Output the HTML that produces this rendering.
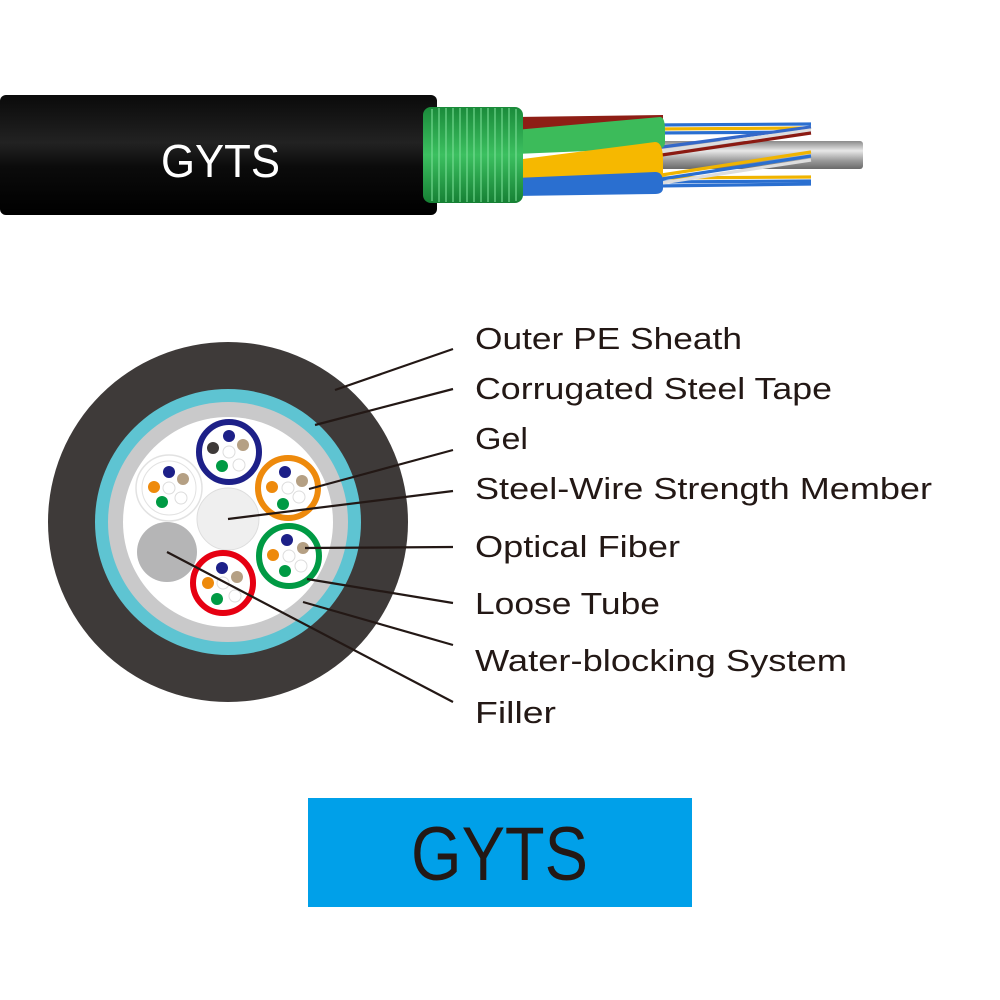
<!DOCTYPE html>
<html><head><meta charset="utf-8"><style>html,body{margin:0;padding:0;background:#fff}svg{display:block}</style></head>
<body>
<svg width="1000" height="1000" viewBox="0 0 1000 1000" xmlns="http://www.w3.org/2000/svg">
<defs>
<linearGradient id="blk" x1="0" y1="0" x2="0" y2="1">
<stop offset="0" stop-color="#0a0a0a"/><stop offset="0.4" stop-color="#222"/><stop offset="0.6" stop-color="#0b0b0b"/><stop offset="1" stop-color="#000"/></linearGradient>
<linearGradient id="rod" x1="0" y1="0" x2="0" y2="1">
<stop offset="0" stop-color="#8a8a8a"/><stop offset="0.35" stop-color="#e8e8e8"/><stop offset="0.7" stop-color="#9a9a9a"/><stop offset="1" stop-color="#6a6a6a"/></linearGradient>
<linearGradient id="grn" x1="0" y1="0" x2="0" y2="1">
<stop offset="0" stop-color="#1a8a3a"/><stop offset="0.5" stop-color="#3cc060"/><stop offset="1" stop-color="#168034"/></linearGradient>
</defs>
<!-- top cable -->
<rect x="0" y="95" width="437" height="120" rx="6" fill="url(#blk)"/>
<text x="161" y="177" font-family="Liberation Sans, sans-serif" font-size="46" fill="#fff" textLength="119" lengthAdjust="spacingAndGlyphs">GYTS</text>
<!-- rod -->
<rect x="655" y="141" width="208" height="28" rx="3" fill="url(#rod)"/>
<!-- fibers top -->
<g stroke-width="3.2" fill="none">
<line x1="655" y1="125" x2="811" y2="124" stroke="#2a6fd0"/>
<line x1="655" y1="129" x2="811" y2="128" stroke="#f0b400"/>
<line x1="655" y1="133" x2="811" y2="132" stroke="#2a6fd0"/>
<line x1="655" y1="148" x2="811" y2="127" stroke="#3468c8"/>
<line x1="655" y1="152" x2="811" y2="130" stroke="#ddd"/>
<line x1="655" y1="156" x2="811" y2="133" stroke="#8b1a12"/>
<line x1="655" y1="182" x2="811" y2="181" stroke="#2a6fd0"/>
<line x1="655" y1="178" x2="811" y2="177" stroke="#f0b400"/>
<line x1="655" y1="186" x2="811" y2="184" stroke="#2a6fd0"/>
<line x1="655" y1="176" x2="811" y2="152" stroke="#f0b400"/>
<line x1="655" y1="180" x2="811" y2="156" stroke="#2a6fd0"/>
<line x1="655" y1="184" x2="811" y2="160" stroke="#ddd"/>
</g>
<!-- tubes -->
<path d="M515 117 L663 115 L663 132 L515 134 Z" fill="#8e1e15"/>
<path d="M515 130 L660 117 Q665 117 665 130 L665 142 Q665 148 660 148 L515 154 Z" fill="#3cbb5a"/>
<path d="M515 160 L655 142 Q663 142 663 160 L663 175 Q663 181 655 181 L515 185 Z" fill="#f6b800"/>
<path d="M515 178 L655 172 Q663 172 663 182 L663 188 Q663 194 655 194 L515 196 Z" fill="#2a6fd0"/>
<!-- armor -->
<rect x="423" y="107" width="100" height="96" rx="8" fill="url(#grn)"/>
<g stroke="#7ee09a" stroke-width="1.5" opacity="0.7">
<line x1="432" y1="109" x2="432" y2="201"/><line x1="439" y1="108" x2="439" y2="202"/><line x1="446" y1="108" x2="446" y2="202"/><line x1="453" y1="108" x2="453" y2="202"/><line x1="460" y1="108" x2="460" y2="202"/><line x1="467" y1="108" x2="467" y2="202"/><line x1="474" y1="108" x2="474" y2="202"/><line x1="481" y1="108" x2="481" y2="202"/><line x1="488" y1="108" x2="488" y2="202"/><line x1="495" y1="108" x2="495" y2="202"/><line x1="502" y1="108" x2="502" y2="202"/><line x1="509" y1="108" x2="509" y2="202"/><line x1="516" y1="109" x2="516" y2="201"/>
</g>
<!-- cross-section -->
<circle cx="228" cy="522" r="180" fill="#3e3a39"/>
<circle cx="228" cy="522" r="133" fill="#5ec4d2"/>
<circle cx="228" cy="522" r="120" fill="#c9c9ca"/>
<circle cx="228" cy="522" r="105" fill="#fff"/>
<circle cx="228" cy="519" r="31" fill="#efefef" stroke="#ddd" stroke-width="1"/>
<circle cx="167" cy="552" r="30" fill="#b5b5b6"/>
<circle cx="169" cy="488" r="33" fill="#fff" stroke="#e2e2e2" stroke-width="1.5"/>
<circle cx="169" cy="488" r="27" fill="none" stroke="#e2e2e2" stroke-width="1"/>
<circle cx="229" cy="452" r="30" fill="#fff" stroke="#1d2088" stroke-width="6"/>
<circle cx="288" cy="488" r="30" fill="#fff" stroke="#ee8a0c" stroke-width="6"/>
<circle cx="289" cy="556" r="30" fill="#fff" stroke="#009a44" stroke-width="6"/>
<circle cx="223" cy="583" r="30" fill="#fff" stroke="#e60012" stroke-width="6"/>
<!-- dots -->
<g>
<circle cx="229" cy="436" r="6" fill="#1d2088"/><circle cx="243" cy="445" r="6" fill="#b5a084"/><circle cx="213" cy="448" r="6" fill="#3e3a39"/><circle cx="222" cy="466" r="6" fill="#009a44"/><circle cx="229" cy="452" r="6" fill="#fff" stroke="#ddd"/><circle cx="239" cy="465" r="6" fill="#fff" stroke="#ddd"/>
<circle cx="169" cy="472" r="6" fill="#1d2088"/><circle cx="183" cy="479" r="6" fill="#b5a084"/><circle cx="154" cy="487" r="6" fill="#ee8a0c"/><circle cx="162" cy="502" r="6" fill="#009a44"/><circle cx="169" cy="488" r="6" fill="#fff" stroke="#ddd"/><circle cx="181" cy="498" r="6" fill="#fff" stroke="#ddd"/>
<circle cx="285" cy="472" r="6" fill="#1d2088"/><circle cx="302" cy="481" r="6" fill="#b5a084"/><circle cx="272" cy="487" r="6" fill="#ee8a0c"/><circle cx="283" cy="504" r="6" fill="#009a44"/><circle cx="288" cy="488" r="6" fill="#fff" stroke="#ddd"/><circle cx="299" cy="497" r="6" fill="#fff" stroke="#ddd"/>
<circle cx="287" cy="540" r="6" fill="#1d2088"/><circle cx="303" cy="548" r="6" fill="#b5a084"/><circle cx="273" cy="555" r="6" fill="#ee8a0c"/><circle cx="285" cy="571" r="6" fill="#009a44"/><circle cx="289" cy="556" r="6" fill="#fff" stroke="#ddd"/><circle cx="301" cy="566" r="6" fill="#fff" stroke="#ddd"/>
<circle cx="222" cy="568" r="6" fill="#1d2088"/><circle cx="237" cy="577" r="6" fill="#b5a084"/><circle cx="208" cy="583" r="6" fill="#ee8a0c"/><circle cx="217" cy="599" r="6" fill="#009a44"/><circle cx="223" cy="583" r="6" fill="#fff" stroke="#ddd"/><circle cx="235" cy="596" r="6" fill="#fff" stroke="#ddd"/>
</g>
<!-- leaders -->
<g stroke="#231815" stroke-width="2.2">
<line x1="335" y1="390" x2="453" y2="349"/>
<line x1="315" y1="425" x2="453" y2="389"/>
<line x1="309" y1="489" x2="453" y2="450"/>
<line x1="228" y1="519" x2="453" y2="491"/>
<line x1="305" y1="548" x2="453" y2="547"/>
<line x1="307" y1="579" x2="453" y2="603"/>
<line x1="303" y1="602" x2="453" y2="645"/>
<line x1="167" y1="552" x2="453" y2="702"/>
</g>
<g font-family="Liberation Sans, sans-serif" font-size="31" fill="#231815" lengthAdjust="spacingAndGlyphs">
<text x="475" y="349" textLength="267" lengthAdjust="spacingAndGlyphs">Outer PE Sheath</text>
<text x="475" y="399" textLength="357" lengthAdjust="spacingAndGlyphs">Corrugated Steel Tape</text>
<text x="475" y="449" textLength="53" lengthAdjust="spacingAndGlyphs">Gel</text>
<text x="475" y="499" textLength="457" lengthAdjust="spacingAndGlyphs">Steel-Wire Strength Member</text>
<text x="475" y="557" textLength="205" lengthAdjust="spacingAndGlyphs">Optical Fiber</text>
<text x="475" y="614" textLength="185" lengthAdjust="spacingAndGlyphs">Loose Tube</text>
<text x="475" y="671" textLength="372" lengthAdjust="spacingAndGlyphs">Water-blocking System</text>
<text x="475" y="723" textLength="81" lengthAdjust="spacingAndGlyphs">Filler</text>
</g>
<!-- bottom box -->
<rect x="308" y="798" width="384" height="109" fill="#00a0e9"/>
<text x="411" y="880" font-family="Liberation Sans, sans-serif" font-size="76" fill="#231815" textLength="177" lengthAdjust="spacingAndGlyphs">GYTS</text>
</svg>
</body></html>
